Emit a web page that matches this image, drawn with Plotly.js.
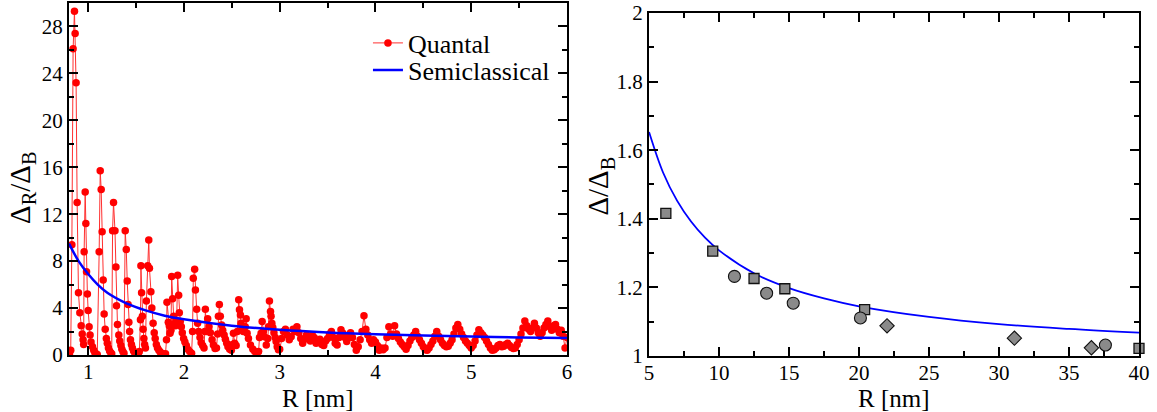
<!DOCTYPE html>
<html><head><meta charset="utf-8">
<script src="https://cdn.plot.ly/plotly-3.0.1.min.js"></script>
<style>html,body{margin:0;padding:0;background:#fff}#chart{width:1157px;height:412px}</style>
</head><body><div id="chart"></div>
<script>
// ---------- Left panel: quantal data (R in nm, Delta_R/Delta_B) ----------
const quantalR = [
 0.805,0.818,0.830,0.843,0.857,0.864,0.874,0.885,0.899,0.913,0.927,0.938,0.947,0.953,
 0.958,0.969,0.976,0.983,0.992,1.000,1.010,1.020,1.030,1.045,1.058,1.070,1.082,1.095,
 1.115,1.126,1.136,1.146,1.157,1.167,1.178,1.190,1.200,1.212,1.224,1.236,1.246,
 1.255,1.265,1.280,1.290,1.296,1.306,1.320,1.330,1.342,1.352,1.362,1.374,
 1.387,1.398,1.408,1.417,1.425,1.433,1.442,1.452,1.462,1.474,1.486,1.498,1.510,1.522,1.535,
 1.546,1.551,1.558,1.566,1.574,1.582,1.590,1.598,
 1.608,1.622,1.633,1.640,1.655,1.665,1.678,1.690,1.700,1.712,1.724,1.738,1.752,1.766,1.780,1.794,1.808,
 1.818,1.823,1.837,1.847,1.855,1.865,1.872,1.882,1.893,1.902,1.912,1.924,1.935,1.945,1.952,1.962,1.973,1.983,1.997,2.010,2.025,2.040,2.060,2.080,
 2.090,2.098,2.112,2.120,2.133,2.143,2.154,2.168,2.180,2.196,2.210,
 2.218,2.224,2.237,2.248,2.262,2.276,2.294,2.308,2.325,2.340,
 2.352,2.360,2.370,2.380,2.394,2.405,2.420,2.433,2.447,2.460,2.478,2.495,2.508,2.517,2.530,2.545,
 2.558,2.572,2.580,2.590,2.597,2.607,2.620,2.640,2.650,2.660,2.674,2.695,2.720,2.740,2.760,2.780,
 2.789,2.806,2.817,2.830,2.840,2.860,2.876,2.883,2.893,2.904,2.910,2.918,2.928,2.940,2.953,2.963,2.974,2.987,
 3.00,3.02,3.04,3.06,3.08,3.10,3.12,3.14,3.16,3.18,
 3.20,3.22,3.24,3.26,3.28,3.30,3.32,3.34,3.36,3.38,
 3.40,3.42,3.44,3.46,3.48,3.50,3.52,3.54,3.56,3.58,
 3.60,3.62,3.64,3.66,3.68,3.70,3.72,3.74,3.76,3.78,
 3.80,3.82,3.84,3.86,3.88,3.90,3.92,3.94,3.96,3.98,
 4.00,4.02,4.04,4.06,4.08,4.10,4.12,4.14,4.16,4.18,
 4.20,4.22,4.24,4.26,4.28,4.30,4.32,4.34,4.36,4.38,
 4.40,4.42,4.44,4.46,4.48,4.50,4.52,4.54,4.56,4.58,
 4.60,4.62,4.64,4.66,4.68,4.70,4.72,4.74,4.76,4.78,
 4.80,4.82,4.84,4.86,4.88,4.90,4.92,4.94,4.96,4.98,
 5.00,5.02,5.04,5.06,5.08,5.10,5.12,5.14,5.16,5.18,
 5.20,5.22,5.24,5.26,5.28,5.30,5.32,5.34,5.36,5.38,
 5.40,5.42,5.44,5.46,5.48,5.50,5.52,5.54,5.56,5.58,
 5.60,5.62,5.64,5.66,5.68,5.70,5.72,5.74,5.76,5.78,
 5.80,5.82,5.84,5.86,5.88,5.90,5.92,5.94,5.96,5.98,
 6.00
];
const quantalQ = [
 0.1,0.4,9.4,26.1,29.3,27.4,23.2,13.0,5.3,3.6,2.5,1.8,1.3,0.9,
 8.8,13.9,11.2,7.1,5.2,3.8,2.4,1.7,1.1,0.7,0.4,0.2,0.1,0.05,
 8.8,15.7,14.1,10.5,6.4,3.5,2.2,1.4,1.0,0.6,0.35,0.2,0.1,
 10.6,13.0,10.6,7.5,4.2,2.6,1.7,1.2,0.8,0.5,0.3,0.15,
 10.6,9.0,6.3,4.3,2.8,2.0,1.3,0.9,0.6,0.35,0.2,0.1,0.05,0.1,0.3,
 3.0,7.6,5.3,3.3,2.2,1.4,0.9,0.6,
 4.6,7.6,9.8,7.4,5.4,4.0,2.7,1.9,1.4,0.9,0.6,0.4,0.25,0.15,0.1,0.05,0.1,
 1.3,4.5,2.8,2.5,1.85,2.1,6.7,4.8,3.3,2.7,2.5,2.85,6.8,5.1,3.6,2.85,2.4,1.9,1.4,1.1,0.8,0.5,0.3,0.15,
 2.0,6.55,7.3,5.55,3.9,2.7,2.0,1.5,1.05,0.8,0.6,
 2.0,3.9,2.0,3.1,2.4,1.9,1.3,0.85,0.55,0.6,
 1.8,3.3,4.3,3.3,2.55,2.1,1.7,1.35,1.0,0.7,0.5,0.4,0.9,1.85,1.0,0.8,
 2.0,4.7,3.85,3.4,2.7,2.3,2.0,2.4,3.1,1.85,1.4,0.85,0.5,0.3,0.2,0.3,
 1.5,1.85,2.85,2.0,1.55,0.85,1.4,2.4,4.6,3.7,3.3,2.7,2.35,1.9,1.5,1.15,0.7,0.45,
 0.5,1.4,2.0,2.2,1.7,1.3,1.55,2.2,2.0,2.4,
 1.9,1.4,1.0,1.35,1.7,1.4,1.2,1.7,1.5,1.0,
 1.15,1.35,0.9,0.8,1.2,1.4,1.8,2.0,1.5,1.0,
 0.85,1.5,2.15,1.85,1.5,1.15,1.5,1.9,1.5,0.9,
 0.4,0.7,1.3,2.0,3.35,2.2,1.7,1.3,1.0,1.3,
 1.1,0.8,0.4,0.6,0.45,0.6,1.5,2.4,1.8,1.6,
 2.5,1.8,1.4,1.1,0.9,0.7,0.5,0.8,1.2,1.5,
 1.7,2.0,1.6,1.3,1.0,0.7,0.45,0.4,0.6,0.9,
 1.2,1.6,2.0,1.6,1.3,1.0,0.8,0.7,0.75,1.0,
 1.3,1.8,2.3,2.6,2.2,1.8,1.5,1.2,1.0,0.8,
 0.6,0.8,1.2,1.7,2.15,1.9,1.7,1.5,1.2,0.9,
 0.6,0.4,0.45,0.6,0.8,0.9,0.7,0.75,0.9,1.0,
 0.8,0.65,0.55,0.6,0.9,1.3,1.8,2.3,2.9,2.5,
 2.2,2.0,2.3,2.7,2.3,1.9,1.6,1.9,2.3,2.6,
 2.9,2.4,2.1,2.5,2.6,2.2,1.9,2.1,1.6,0.6,
 1.5
];
// Left panel: semiclassical curve
const semiLeftR = [0.8,0.9,1.0,1.1,1.2,1.4,1.6,1.8,2.0,2.5,3.0,3.5,4.0,4.5,5.0,5.5,6.0];
const semiLeftQ = [9.5,8.0,6.9,6.0,5.3,4.4,3.8,3.35,3.05,2.5,2.15,1.92,1.77,1.66,1.57,1.5,1.44];

// ---------- Right panel ----------
const semiRightR = [5,6,7,8,9,10,12.5,15,17.5,20,25,30,35,40];
const semiRightD = [1.653,1.535,1.453,1.392,1.345,1.308,1.241,1.198,1.168,1.145,1.114,1.093,1.079,1.068];
const squareR = [6.2,9.55,12.5,14.7,20.4,40.0];
const squareD = [1.416,1.306,1.226,1.196,1.135,1.022];
const circleR = [11.1,13.4,15.3,20.1,37.6];
const circleD = [1.232,1.183,1.154,1.111,1.032];
const diamondR = [22.0,31.1,36.6];
const diamondD = [1.088,1.052,1.024];

// Text labels
const xTitle = 'R [nm]';
const yTitleLeft = 'Δ<sub style="font-size:23px">R</sub>/Δ<sub style="font-size:23px">B</sub>';
const yTitleRight = 'Δ/Δ<sub style="font-size:23px">B</sub>';

const SERIF = 'Liberation Serif, Times New Roman, serif';
const tickFont = {family: SERIF, size: 21, color: '#000'};
const titleFont = {family: SERIF, size: 25, color: '#000'};
const yTitleFont = {family: SERIF, size: 29, color: '#000'};
const legendFont = {family: SERIF, size: 26, color: '#000'};

const grey = '#8a8a8a';
const traces = [
  {x: quantalR, y: quantalQ, xaxis: 'x', yaxis: 'y', type: 'scatter', mode: 'lines+markers',
   name: 'Quantal', legend: 'legend', line: {color: '#ff3030', width: 1},
   marker: {color: '#ff0000', size: 7.5, symbol: 'circle'}},
  {x: semiLeftR, y: semiLeftQ, xaxis: 'x', yaxis: 'y', type: 'scatter', mode: 'lines',
   name: 'Semiclassical', legend: 'legend2', line: {color: '#0000ff', width: 2.5, shape: 'spline'}},
  {x: semiRightR, y: semiRightD, xaxis: 'x2', yaxis: 'y2', type: 'scatter', mode: 'lines',
   showlegend: false, line: {color: '#0000ff', width: 1.8, shape: 'spline'}},
  {x: squareR, y: squareD, xaxis: 'x2', yaxis: 'y2', type: 'scatter', mode: 'markers', showlegend: false,
   cliponaxis: false, marker: {symbol: 'square', size: 10, color: grey, line: {color: '#111', width: 1.3}}},
  {x: circleR, y: circleD, xaxis: 'x2', yaxis: 'y2', type: 'scatter', mode: 'markers', showlegend: false,
   cliponaxis: false, marker: {symbol: 'circle', size: 12, color: grey, line: {color: '#111', width: 1.1}}},
  {x: diamondR, y: diamondD, xaxis: 'x2', yaxis: 'y2', type: 'scatter', mode: 'markers', showlegend: false,
   cliponaxis: false, marker: {symbol: 'diamond', size: 11, color: grey, line: {color: '#111', width: 1.1}}}
];

function axis(extra) {
  return Object.assign({
    ticks: 'inside', ticklen: 9, tickwidth: 2, tickcolor: '#000',
    showline: true, linewidth: 2, linecolor: '#000', mirror: 'ticks',
    showgrid: false, zeroline: false, tickfont: tickFont, automargin: false
  }, extra);
}
function minor(d) {
  return {tick0: 0, dtick: d, ticks: 'inside', ticklen: 5, tickwidth: 2, tickcolor: '#000', showgrid: false};
}
function legendBox(yc) {
  return {x: 0.2794, y: yc, xanchor: 'left', yanchor: 'middle', font: legendFont,
          bgcolor: 'rgba(0,0,0,0)', borderwidth: 0};
}

const layout = {
  width: 1157, height: 412,
  margin: {l: 69, r: 18, t: 3, b: 56},
  paper_bgcolor: '#fff', plot_bgcolor: '#fff',
  showlegend: true,
  legend: legendBox(0.8867),
  legend2: legendBox(0.810),
  xaxis: axis({domain: [0, 0.4654], anchor: 'y', range: [0.8, 6], tickmode: 'linear', tick0: 0, dtick: 1,
    minor: minor(0.5), ticklabelstandoff: -3}),
  yaxis: axis({domain: [0.0028, 1], anchor: 'x', range: [0, 30], tickmode: 'linear', tick0: 0, dtick: 4,
    minor: minor(2)}),
  xaxis2: axis({domain: [0.5421, 1], anchor: 'y2', range: [5, 40], tickmode: 'linear', tick0: 0, dtick: 5,
    minor: minor(2.5), ticklabelstandoff: -3}),
  yaxis2: axis({domain: [0, 0.9717], anchor: 'x2', range: [1, 2], tickmode: 'linear', tick0: 0, dtick: 0.2,
    minor: minor(0.1)}),
  annotations: [
    {text: xTitle, xref: 'paper', yref: 'paper', x: 0.2327, y: -0.119, xanchor: 'center', yanchor: 'middle',
     showarrow: false, font: titleFont},
    {text: xTitle, xref: 'paper', yref: 'paper', x: 0.771, y: -0.119, xanchor: 'center', yanchor: 'middle',
     showarrow: false, font: titleFont},
    {text: yTitleLeft, xref: 'paper', yref: 'paper', x: -0.0439, y: 0.476, xanchor: 'center', yanchor: 'middle',
     textangle: -90, showarrow: false, font: yTitleFont},
    {text: yTitleRight, xref: 'paper', yref: 'paper', x: 0.4963, y: 0.48, xanchor: 'center', yanchor: 'middle',
     textangle: -90, showarrow: false, font: yTitleFont}
  ]
};

Plotly.newPlot('chart', traces, layout, {displayModeBar: false, staticPlot: true});
</script></body></html>
